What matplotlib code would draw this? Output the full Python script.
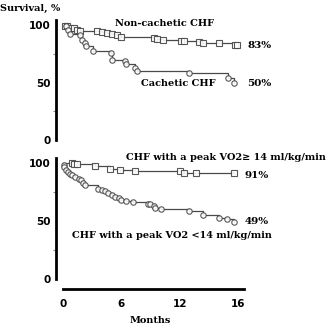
import numpy as np
import matplotlib
matplotlib.use("Agg")
import matplotlib.pyplot as plt

# Kaplan-Meier curves, months vs survival (%)
noncach_months = [0.2, 0.4, 0.7, 1.1, 1.4, 1.7, 3.5, 4.0, 4.5, 5.0, 5.5, 6.0,
                  9.3, 9.6, 10.3, 12.1, 12.3, 13.3, 13.6, 14.7, 15.8, 15.9]
noncach_surv = [99.5, 99, 97.5, 97, 96, 95, 94.5, 93.5, 93, 92, 91.5, 90,
                88.5, 88, 87, 86, 86, 85.5, 84, 84, 83, 83]

cach_months = [0.3, 0.5, 0.7, 1.7, 1.9, 2.3, 2.4, 3.1, 4.9, 5.0, 6.4, 6.5,
               7.4, 7.6, 12.6, 15.3, 15.7]
cach_surv = [99, 96, 92, 91, 87, 84, 81.5, 77, 75.5, 70, 69, 66,
             62.5, 60, 58, 53.5, 50]

hi_months = [0.9, 1.1, 1.4, 3.3, 4.8, 5.8, 7.4, 12.0, 12.3, 13.1, 15.7]
hi_surv = [100, 99.5, 99, 97, 95, 94, 93, 93, 91.5, 91, 91]

lo_months = [0.05, 0.1, 0.3, 0.5, 0.7, 0.95, 1.2, 1.6, 1.85, 2.1, 2.3, 3.6,
             4.0, 4.3, 4.65, 5.0, 5.3, 5.7, 6.0, 6.5, 7.2, 8.75, 8.9, 9.3,
             9.4, 10.1, 12.6, 13.6, 14.7, 15.2, 15.7]
lo_surv = [98.5, 96.5, 94, 92, 90.5, 89.5, 88, 86.5, 85, 83, 81, 78,
           76.5, 75.5, 74, 72.5, 71, 70, 68.5, 67, 66, 65, 64.5, 62.5,
           61, 60, 58.5, 55.5, 53, 51.5, 49]

month_ticks = [0, 6, 12, 16]
surv_ticks = [0, 50, 100]

W, H = 334, 328
SERIF = {"family": "DejaVu Serif", "weight": "bold"}


# the month axis is squeezed up to 12 and stretched afterwards
def fwd(x):
    x = np.asarray(x, dtype=float)
    return np.where(x <= 12, x, 12 + 1.5 * (x - 12))


def inv(y):
    y = np.asarray(y, dtype=float)
    return np.where(y <= 12, y, 12 + (y - 12) / 1.5)


def box(x0, y0, x1, y1):
    return [x0 / W, 1 - y1 / H, (x1 - x0) / W, (y1 - y0) / H]


def px(x, y):
    return x / W, 1 - y / H


def km(ax, months, surv, marker):
    ax.plot([0] + months, [100] + surv, drawstyle="steps-post",
            color="#4a4a4a", lw=0.9, zorder=2)
    ax.plot(months, surv, ls="none", marker=marker, ms=3.9, mew=0.8,
            mec="#454545", mfc="white", alpha=0.9, zorder=3)


def style(ax, ylim):
    ax.set_xscale("function", functions=(fwd, inv))
    ax.set_xlim(-0.72, 16.45)
    ax.set_ylim(*ylim)
    for s in ["top", "right"]:
        ax.spines[s].set_visible(False)
    ax.spines["left"].set_linewidth(2)
    ax.spines["left"].set_bounds(0, ylim[1])
    ax.set_yticks(surv_ticks)
    ax.set_yticks([25, 75], minor=True)
    ax.tick_params(axis="y", which="major", length=0, pad=4)
    ax.tick_params(axis="y", which="minor", length=2.5, width=0.8, color="#888888")
    for lab in ax.get_yticklabels():
        lab.set_fontweight("bold")
        lab.set_fontsize(7.5)


fig = plt.figure(figsize=(W / 100, H / 100), dpi=100)

ax1 = fig.add_axes(box(56, 20, 245, 140))
km(ax1, noncach_months, noncach_surv, "s")
km(ax1, cach_months, cach_surv, "o")
style(ax1, (0, 104.35))
ax1.spines["bottom"].set_visible(False)
ax1.set_xticks([])

ax2 = fig.add_axes(box(56, 158, 245, 289))
km(ax2, hi_months, hi_surv, "s")
km(ax2, lo_months, lo_surv, "o")
style(ax2, (-8.62, 104.3))
ax2.spines["bottom"].set_linewidth(2)
ax2.spines["bottom"].set_bounds(0, 16.4)
ax2.set_xticks(month_ticks)
ax2.set_xticklabels([str(t) for t in month_ticks], fontsize=7.5, fontweight="bold")
ax2.tick_params(axis="x", length=0, pad=7)
ax2.set_xlabel("Months", fontsize=7, labelpad=5, **SERIF)

fig.text(*px(0, 8), "Survival, %", fontsize=7, ha="left", va="center", **SERIF)
fig.text(*px(165, 24), "Non-cachetic CHF", fontsize=7, ha="center", va="center", **SERIF)
fig.text(*px(247, 45), "83%", fontsize=7.5, ha="left", va="center", **SERIF)
fig.text(*px(178, 84), "Cachetic CHF", fontsize=7, ha="center", va="center", **SERIF)
fig.text(*px(247, 83), "50%", fontsize=7.5, ha="left", va="center", **SERIF)
fig.text(*px(226, 157), "CHF with a peak VO2\u2265 14 ml/kg/min", fontsize=7,
         ha="center", va="center", **SERIF)
fig.text(*px(245, 176), "91%", fontsize=7.5, ha="left", va="center", **SERIF)
fig.text(*px(245, 222), "49%", fontsize=7.5, ha="left", va="center", **SERIF)
fig.text(*px(172, 235), "CHF with a peak VO2 <14 ml/kg/min", fontsize=7,
         ha="center", va="center", **SERIF)

fig.savefig("out.png", dpi=100)
